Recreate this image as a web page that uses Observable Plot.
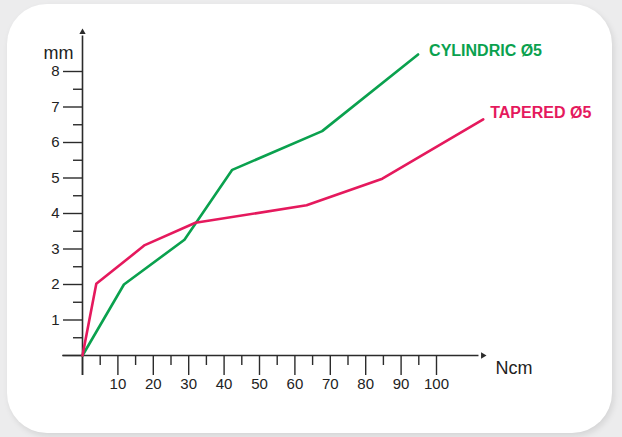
<!DOCTYPE html>
<html>
<head>
<meta charset="utf-8">
<script src="https://cdn.jsdelivr.net/npm/d3@7"></script>
<script src="https://cdn.jsdelivr.net/npm/@observablehq/plot@0.6"></script>
<style>
  html, body { margin: 0; padding: 0; }
  body { width: 622px; height: 437px; background: #ececed; position: relative; overflow: hidden;
         font-family: "Liberation Sans", Arial, Helvetica, sans-serif; }
  #card { position: absolute; left: 7px; top: 4px; width: 605px; height: 429px; background: #fff;
          border-radius: 40px; box-shadow: 2px 3px 6px rgba(0,0,0,0.10); }
  #chart { position: absolute; left: 0; top: 0; }
</style>
</head>
<body>
<div id="card"></div>
<div id="chart"></div>
<script>
// Data
const cylindricNcm = [0, 11.7, 28.8, 42.3, 67.7, 94.8];
const cylindricMm  = [0, 2.0, 3.26, 5.23, 6.32, 8.48];
const taperedNcm   = [0, 3.9, 17.6, 31.9, 63.3, 84.7, 113.2];
const taperedMm    = [0, 2.02, 3.11, 3.74, 4.23, 4.98, 6.65];
const seriesNames  = ["CYLINDRIC Ø5", "TAPERED Ø5"];
const xMajorTicks  = [0, 10, 20, 30, 40, 50, 60, 70, 80, 90, 100];
const xMinorTicks  = [5, 15, 25, 35, 45, 55, 65, 75, 85, 95];
const yMajorTicks  = [0, 1, 2, 3, 4, 5, 6, 7, 8];
const yMinorTicks  = [0.5, 1.5, 2.5, 3.5, 4.5, 5.5, 6.5, 7.5];
const xTitle = "Ncm";
const yTitle = "mm";

const green = "#0aa14e";
const red = "#e5195d";
const axisColor = "#2b2b2b";

const cyl = cylindricNcm.map((x, i) => ({x, y: cylindricMm[i]}));
const tap = taperedNcm.map((x, i) => ({x, y: taperedMm[i]}));

const chart = Plot.plot({
  width: 622,
  height: 437,
  marginLeft: 82,
  marginRight: 186,
  marginTop: 71,
  marginBottom: 82,
  style: {background: "transparent", fontFamily: "'Liberation Sans', Arial, Helvetica, sans-serif", color: "#222"},
  x: {domain: [0, 100], label: null},
  y: {domain: [0, 8], label: null},
  marks: [
    // axis lines
    Plot.ruleY([0], {x1: -5.6, x2: 112, stroke: axisColor, strokeWidth: 1.6}),
    Plot.ruleX([0], {y1: -0.56, y2: 9.0, stroke: axisColor, strokeWidth: 1.6}),
    Plot.dot([{x: 0, y: 9.11}], {x: "x", y: "y", symbol: "triangle2", r: 3, fill: axisColor, stroke: null}),
    Plot.dot([{x: 113.1, y: 0}], {x: "x", y: "y", symbol: "triangle2", r: 3, rotate: 90, fill: axisColor, stroke: null}),
    // ticks
    Plot.axisX(xMajorTicks, {anchor: "bottom", label: null, tickSize: 20, tickPadding: 3, fontSize: 15, stroke: axisColor, strokeWidth: 1.4,
      tickFormat: d => d === 0 ? "" : String(d)}),
    Plot.axisX(xMinorTicks, {anchor: "bottom", label: null, tickSize: 10, text: null, stroke: axisColor, strokeWidth: 1.4}),
    Plot.axisY(yMajorTicks, {anchor: "left", label: null, tickSize: 19, tickPadding: 4, fontSize: 15, stroke: axisColor, strokeWidth: 1.4,
      tickFormat: d => d === 0 ? "" : String(d)}),
    Plot.axisY(yMinorTicks, {anchor: "left", label: null, tickSize: 9, text: null, stroke: axisColor, strokeWidth: 1.4}),
    // axis titles
    Plot.text([yTitle], {frameAnchor: "top-left", text: d => d, dx: -24, dy: -25, fontSize: 18, fill: "#222", textAnchor: "middle"}),
    Plot.text([xTitle], {frameAnchor: "bottom-right", text: d => d, dx: 59, dy: 18, fontSize: 18, fill: "#222", textAnchor: "start"}),
    // series
    Plot.line(cyl, {x: "x", y: "y", stroke: green, strokeWidth: 2.6}),
    Plot.line(tap, {x: "x", y: "y", stroke: red, strokeWidth: 2.6}),
    // series labels
    Plot.text([cyl[cyl.length - 1]], {x: "x", y: "y", text: () => seriesNames[0], dx: 11, dy: -4,
      textAnchor: "start", fontSize: 16, fontWeight: "bold", fill: green}),
    Plot.text([tap[tap.length - 1]], {x: "x", y: "y", text: () => seriesNames[1], dx: 7, dy: -7,
      textAnchor: "start", fontSize: 16, fontWeight: "bold", fill: red})
  ]
});
document.getElementById("chart").appendChild(chart);
</script>
</body>
</html>
